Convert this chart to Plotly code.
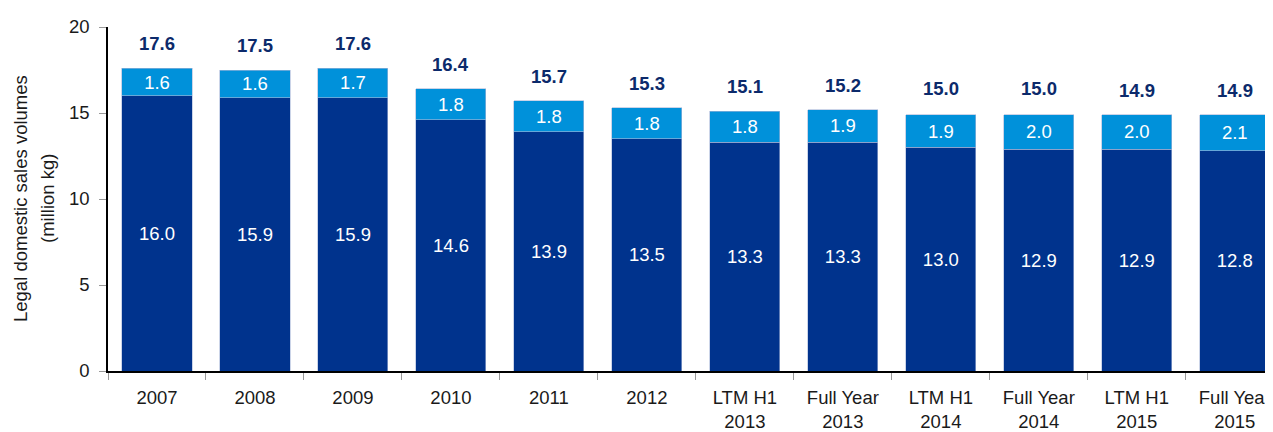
import plotly.graph_objects as go

categories = ["2007", "2008", "2009", "2010", "2011", "2012",
              "LTM H1<br>2013", "Full Year<br>2013", "LTM H1<br>2014",
              "Full Year<br>2014", "LTM H1<br>2015", "Full Year<br>2015"]
base_vals = [16.0, 15.9, 15.9, 14.6, 13.9, 13.5, 13.3, 13.3, 13.0, 12.9, 12.9, 12.8]
top_vals = [1.6, 1.6, 1.7, 1.8, 1.8, 1.8, 1.8, 1.9, 1.9, 2.0, 2.0, 2.1]
totals = [17.6, 17.5, 17.6, 16.4, 15.7, 15.3, 15.1, 15.2, 15.0, 15.0, 14.9, 14.9]
y_title = ["Legal domestic sales volumes", "(million kg)"]

DARK = "#00338D"
LIGHT = "#0091DA"
FONT = "Liberation Sans, Arial, sans-serif"
TXT = "#1a1a1a"

fig = go.Figure()

for vals, col in [(base_vals, DARK), (top_vals, LIGHT)]:
    fig.add_trace(
        go.Bar(
            x=categories,
            y=vals,
            marker=dict(color=col, line=dict(color="#a8b8d8", width=0.6)),
            text=[f"{v:.1f}" for v in vals],
            textposition="inside",
            insidetextanchor="middle",
            textangle=0,
            textfont=dict(color="white", size=18.5, family=FONT),
            hoverinfo="skip",
        )
    )

# total labels above each bar (x by category index so "2007" is not read as a number)
annotations = [
    dict(x=i, y=t, xref="x", yref="y", text=f"<b>{t:.1f}</b>", showarrow=False,
         yanchor="bottom", yshift=12, font=dict(color="#0C2A6B", size=18.5, family=FONT))
    for i, t in enumerate(totals)
]

# y title as two rotated lines, wider line spacing than plotly's default
for line, shift in zip(y_title, [-88, -61]):
    annotations.append(dict(x=0, y=0.5, xref="paper", yref="paper", text=line,
                            showarrow=False, textangle=-90, xanchor="center",
                            yanchor="middle", xshift=shift,
                            font=dict(size=18.5, color=TXT, family=FONT)))

# page body has an 8px margin, so margins are shifted by 8
fig.update_layout(
    barmode="stack",
    bargap=0.285,
    width=1273,
    height=432,
    margin=dict(l=100, r=8, t=14, b=67),
    paper_bgcolor="white",
    plot_bgcolor="white",
    showlegend=False,
    font=dict(family=FONT, size=18.5, color=TXT),
    uniformtext=dict(mode="show", minsize=10),
    xaxis=dict(
        type="category",
        range=[-0.5, 11.39],
        showline=True, linecolor="black", linewidth=1.5,
        ticks="outside", tickson="boundaries", ticklen=7, tickcolor="#999999",
        ticklabelstandoff=9,
        tickfont=dict(size=18.5, color=TXT),
        showgrid=False,
    ),
    yaxis=dict(
        range=[0, 20],
        tickvals=[0, 5, 10, 15, 20],
        showline=True, linecolor="black", linewidth=1.5,
        ticks="outside", ticklen=7, tickcolor="#999999",
        ticklabelstandoff=6,
        tickfont=dict(size=18.5, color=TXT),
        showgrid=False, zeroline=False,
    ),
    annotations=annotations,
)

fig.write_html("out.html")
